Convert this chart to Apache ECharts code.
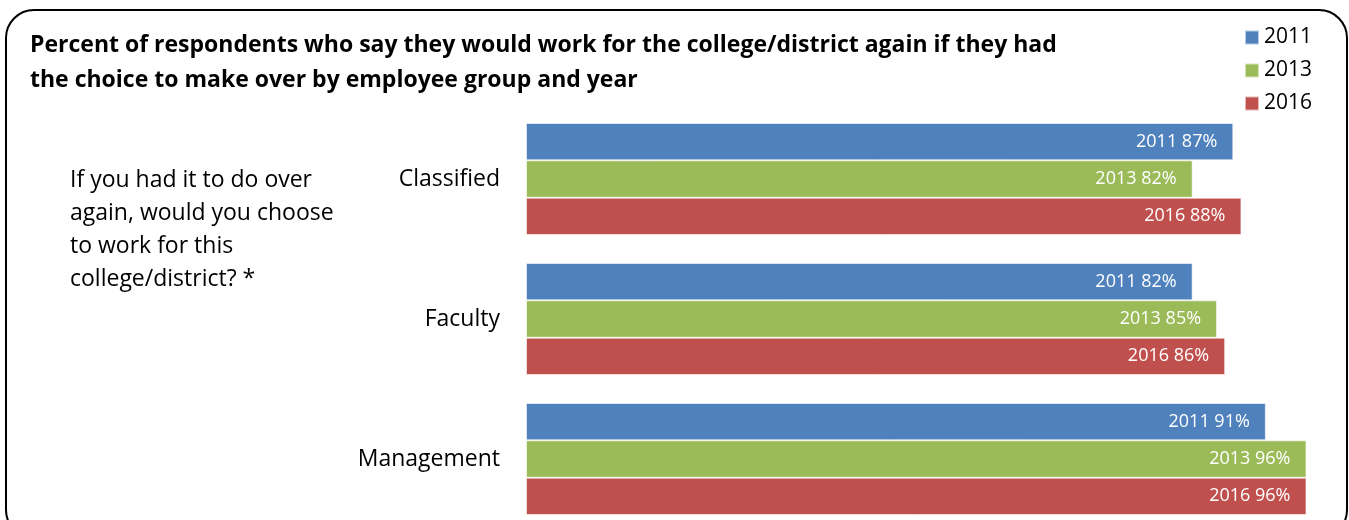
<!doctype html>
<html>
<head>
    <meta charset="utf-8">
    <title>Work for the college again</title>
    <script type="text/javascript" src="https://cdn.jsdelivr.net/npm/echarts@6/dist/echarts.min.js"></script>
    <style>
        html, body { margin: 0; padding: 0; background: #fff; }
        #container { width: 1349px; height: 520px; }
    </style>
</head>
<body>
<div id="container"></div>
<script type="text/javascript">
    // categories (top to bottom) and percentages per survey year
    var groups = ['Classified', 'Faculty', 'Management'];
    var years = ['2011', '2013', '2016'];
    var v2011 = [87, 82, 91];
    var v2013 = [82, 85, 96];
    var v2016 = [88, 86, 96];
    var colors = ['#4f81bd', '#9bbb59', '#c0504d'];

    var font = '"Open Sans", Lato, sans-serif';

    function makeSeries(name, data, color) {
        return {
            name: name,
            type: 'bar',
            data: data,
            barGap: 0,
            barCategoryGap: '20%',
            itemStyle: { color: color, borderColor: 'rgba(255,255,255,0.6)', borderWidth: 1 },
            label: {
                show: true,
                position: 'insideRight',
                distance: 16,
                color: '#fff',
                fontFamily: font,
                fontSize: 18,
                formatter: function (p) { return name + ' ' + p.value + '%'; }
            }
        };
    }

    var myChart = echarts.init(document.getElementById('container'));
    var option = {
        animation: false,
        color: colors,
        graphic: [
            {
                type: 'rect',
                shape: { x: 6, y: 10, width: 1341, height: 528, r: 28 },
                style: { fill: 'none', stroke: '#000', lineWidth: 2 },
                silent: true
            },
            {
                type: 'text',
                left: 30, top: 28,
                style: {
                    text: 'Percent of respondents who say they would work for the college/district again if they had\nthe choice to make over by employee group and year',
                    font: 'bold 23px ' + font,
                    lineHeight: 35,
                    fill: '#000'
                }
            },
            {
                type: 'text',
                left: 70, top: 164,
                style: {
                    text: 'If you had it to do over\nagain, would you choose\nto work for this\ncollege/district? *',
                    font: '23px ' + font,
                    lineHeight: 33,
                    fill: '#000'
                }
            }
        ],
        legend: {
            orient: 'vertical',
            right: 32, top: 22,
            itemWidth: 14, itemHeight: 14,
            itemGap: 12,
            icon: 'rect',
            textStyle: { fontFamily: font, fontSize: 21, color: '#000' },
            data: years
        },
        // category centres sit on the ticks so the last band may run past the bottom edge
        grid: { left: 526, top: 179, width: 813, height: 280, containLabel: false },
        xAxis: {
            type: 'value', min: 0, max: 100,
            show: false
        },
        yAxis: {
            type: 'category',
            data: groups,
            inverse: true,
            boundaryGap: false,
            axisLine: { show: false },
            axisTick: { show: false },
            axisLabel: { margin: 26, fontFamily: font, fontSize: 23, color: '#000' }
        },
        series: [
            makeSeries(years[0], v2011, colors[0]),
            makeSeries(years[1], v2013, colors[1]),
            makeSeries(years[2], v2016, colors[2])
        ]
    };
    myChart.setOption(option);
</script>
</body>
</html>
